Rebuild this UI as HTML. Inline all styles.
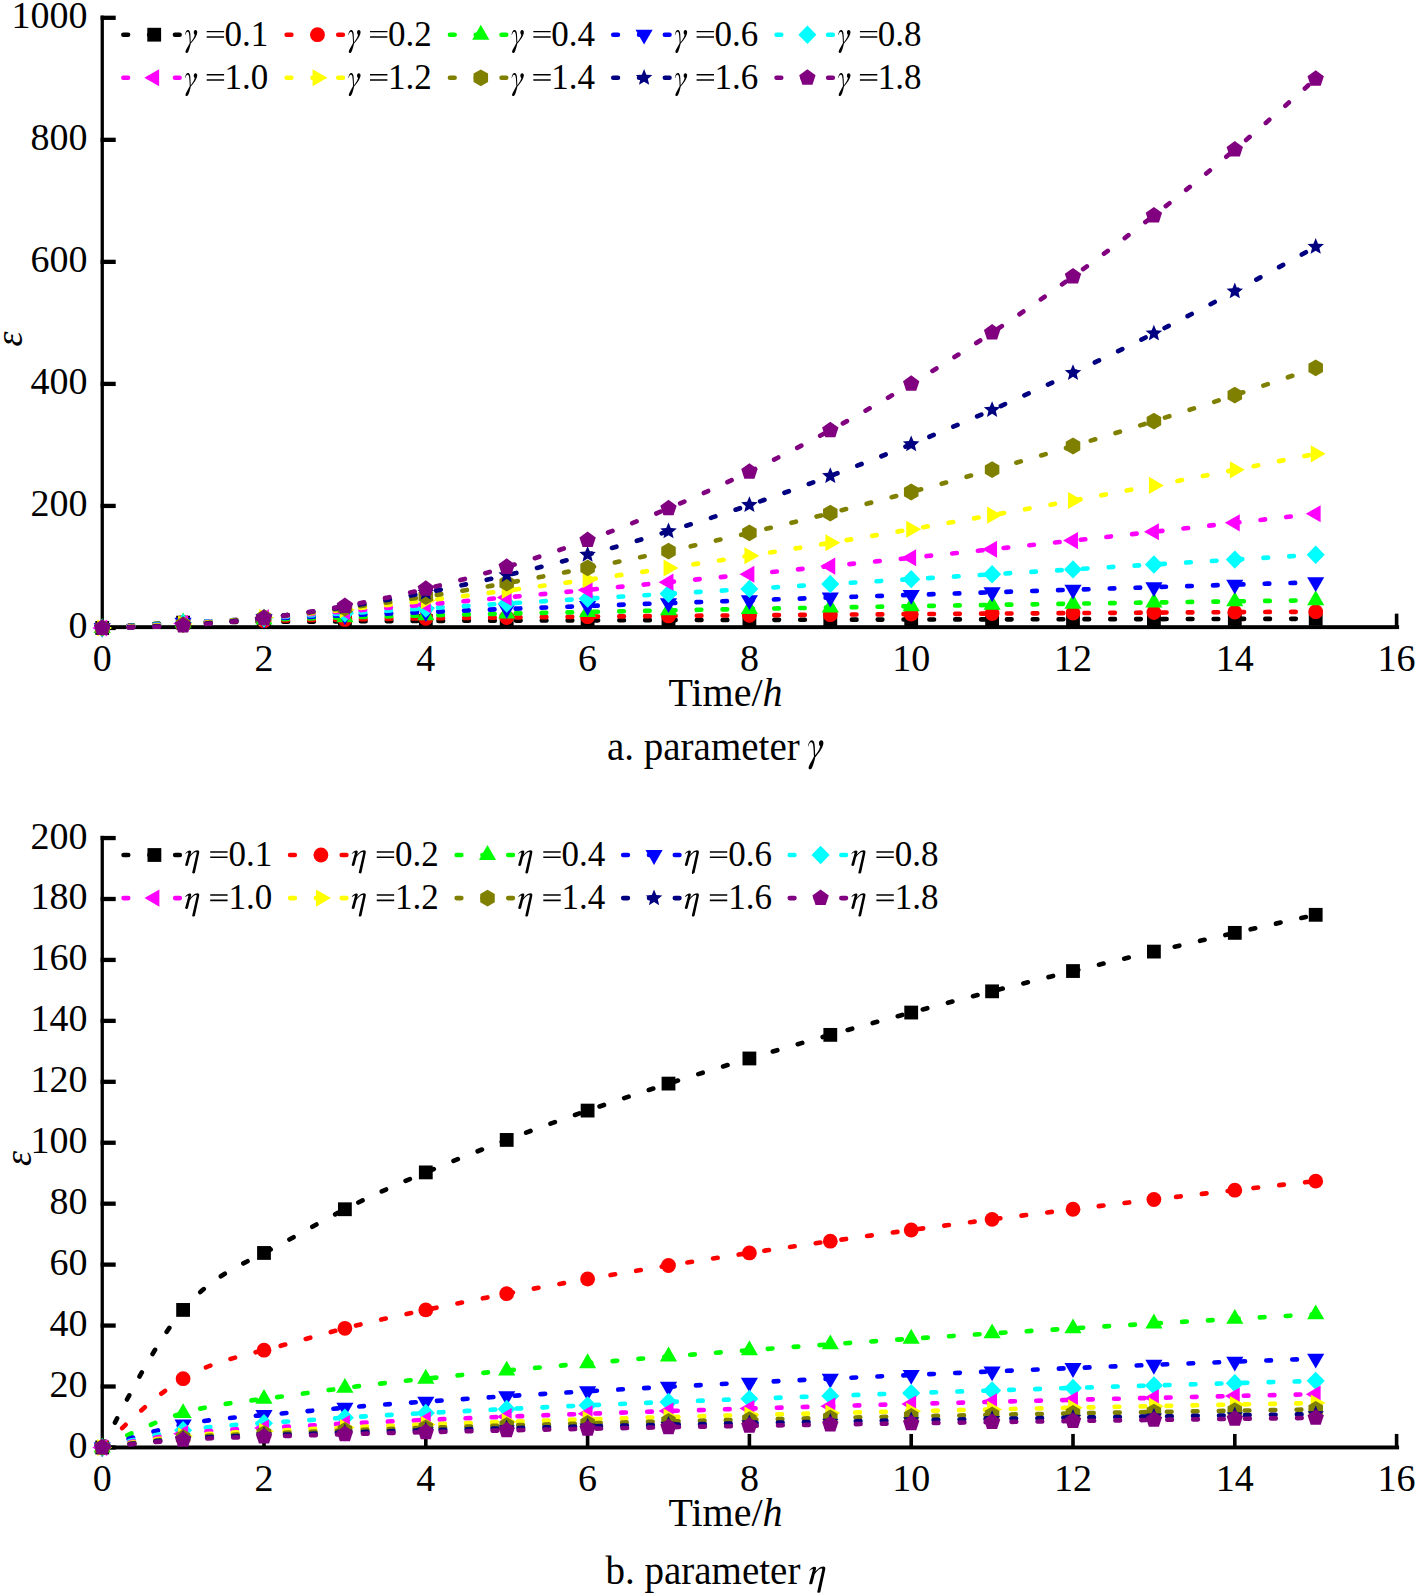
<!DOCTYPE html><html><head><meta charset="utf-8"><style>html,body{margin:0;padding:0;background:#fff;}svg{display:block;}text{font-family:"Liberation Serif",serif;fill:#000;}</style></head><body>
<svg width="1416" height="1596" viewBox="0 0 1416 1596">
<rect width="1416" height="1596" fill="#fff"/>
<defs><path id="gm" d="M0.1,-10.6 C0.6,-13.6 1.7,-15.5 3,-15.5 C4.9,-15.5 5.6,-13 5.6,-9.6 L5.9,-2.4 L4.9,-2.4 C4.7,-6 4.6,-10.5 4,-12.5 C3.5,-14 2.2,-14.5 1.2,-12.6 C0.9,-12 0.6,-11.2 0.4,-10.5 Z M5.2,-2.6 C6.8,-4.6 9,-7 9.9,-10.6 C9.1,-11.2 8.8,-12.4 8.9,-13.4 C9,-14.8 9.9,-15.5 10.7,-15.4 C11.8,-15.3 12.4,-14.4 12.4,-13.2 C12.2,-9.5 9,-5.5 6.2,-2.2 Z M4.9,-2.6 L6,-2.4 C5.4,0.5 4.5,4 3.4,6.3 C2.8,7.6 1.4,7.9 0.8,7.1 C0.4,6.4 0.8,5 1.6,3.6 C2.6,1.5 4,-0.6 4.9,-2.6 Z"/><path id="et" d="M0.2,-12 C1.3,-13.6 3.2,-15.3 4.9,-15.3 C6,-15.3 6.4,-14.6 6.2,-13.6 L3,-0.9 C2.8,-0.2 2.3,0.1 1.5,0.1 C0.6,0.1 0,-0.2 0.2,-1 L3.4,-12.6 C3.5,-13.4 3,-13.5 2.4,-13.2 C1.6,-12.8 0.9,-12.3 0.5,-11.8 Z M4.6,-9.5 C6.5,-12.5 9.5,-15.5 12.5,-15.5 C14,-15.5 14.6,-14.4 14.2,-12.8 L10,6.6 C9.8,7.3 9.2,7.6 8.5,7.6 C7.6,7.6 7.1,7.2 7.3,6.4 L11.6,-12.4 C11.9,-13.6 11.4,-14 10.6,-13.8 C8.5,-13.4 6.4,-10.8 4.8,-8.4 Z"/></defs>
<rect x="100.6" y="15.6" width="3.3" height="613.5" fill="#000"/>
<rect x="100.6" y="625.2" width="1298.5" height="3.9" fill="#000"/>
<rect x="100.6" y="15.65" width="15.1" height="4.3" fill="#000"/>
<rect x="100.6" y="137.68" width="15.1" height="4.3" fill="#000"/>
<rect x="100.6" y="259.71" width="15.1" height="4.3" fill="#000"/>
<rect x="100.6" y="381.74" width="15.1" height="4.3" fill="#000"/>
<rect x="100.6" y="503.77" width="15.1" height="4.3" fill="#000"/>
<rect x="100.6" y="625.8" width="15.1" height="4.3" fill="#000"/>
<text x="87.6" y="28.3" font-size="38" text-anchor="end">1000</text>
<text x="87.6" y="150.33" font-size="38" text-anchor="end">800</text>
<text x="87.6" y="272.36" font-size="38" text-anchor="end">600</text>
<text x="87.6" y="394.39" font-size="38" text-anchor="end">400</text>
<text x="87.6" y="516.42" font-size="38" text-anchor="end">200</text>
<text x="87.6" y="638.45" font-size="38" text-anchor="end">0</text>
<text x="102.2" y="670.7" font-size="38" text-anchor="middle">0</text>
<rect x="262.2" y="613.65" width="3.6" height="13.5" fill="#000"/>
<text x="264" y="670.7" font-size="38" text-anchor="middle">2</text>
<rect x="424" y="613.65" width="3.6" height="13.5" fill="#000"/>
<text x="425.8" y="670.7" font-size="38" text-anchor="middle">4</text>
<rect x="585.8" y="613.65" width="3.6" height="13.5" fill="#000"/>
<text x="587.6" y="670.7" font-size="38" text-anchor="middle">6</text>
<rect x="747.6" y="613.65" width="3.6" height="13.5" fill="#000"/>
<text x="749.4" y="670.7" font-size="38" text-anchor="middle">8</text>
<rect x="909.4" y="613.65" width="3.6" height="13.5" fill="#000"/>
<text x="911.2" y="670.7" font-size="38" text-anchor="middle">10</text>
<rect x="1071.2" y="613.65" width="3.6" height="13.5" fill="#000"/>
<text x="1073" y="670.7" font-size="38" text-anchor="middle">12</text>
<rect x="1233" y="613.65" width="3.6" height="13.5" fill="#000"/>
<text x="1234.8" y="670.7" font-size="38" text-anchor="middle">14</text>
<rect x="1394.8" y="613.65" width="3.6" height="13.5" fill="#000"/>
<text x="1396.6" y="670.7" font-size="38" text-anchor="middle">16</text>
<text x="725.5" y="705.5" font-size="40" text-anchor="middle">Time/<tspan font-style="italic">h</tspan></text>
<text transform="translate(21.5 339) rotate(-90)" font-size="38" font-style="italic" text-anchor="middle">ε</text>
<text x="607" y="759.6" font-size="39">a. parameter</text>
<use href="#gm" transform="translate(807.8 759.7) scale(1.26)"/>
<line x1="123.35" y1="34.7" x2="179.6" y2="34.7" stroke="#000000" stroke-width="4.6" stroke-linecap="round" stroke-dasharray="4.7 21.1"/>
<rect x="147.3" y="27.8" width="13.8" height="13.8" fill="#000000"/>
<use href="#gm" transform="translate(184.86 45.5)"/>
<path d="M206.7 30.95h17.4v1.4h-17.4zM206.7 36.2h17.4v1.6h-17.4z"/>
<text x="224.6" y="45.5" font-size="35">0.1</text>
<line x1="286.65" y1="34.7" x2="342.9" y2="34.7" stroke="#FF0000" stroke-width="4.6" stroke-linecap="round" stroke-dasharray="4.7 21.1"/>
<circle cx="317.5" cy="34.7" r="7.4" fill="#FF0000"/>
<use href="#gm" transform="translate(348.16 45.5)"/>
<path d="M370 30.95h17.4v1.4h-17.4zM370 36.2h17.4v1.6h-17.4z"/>
<text x="387.9" y="45.5" font-size="35">0.2</text>
<line x1="449.95" y1="34.7" x2="506.2" y2="34.7" stroke="#00FF00" stroke-width="4.6" stroke-linecap="round" stroke-dasharray="4.7 21.1"/>
<polygon points="480.8,24.8 489.37,39.65 472.23,39.65" fill="#00FF00"/>
<use href="#gm" transform="translate(511.46 45.5)"/>
<path d="M533.3 30.95h17.4v1.4h-17.4zM533.3 36.2h17.4v1.6h-17.4z"/>
<text x="551.2" y="45.5" font-size="35">0.4</text>
<line x1="613.25" y1="34.7" x2="669.5" y2="34.7" stroke="#0000FF" stroke-width="4.6" stroke-linecap="round" stroke-dasharray="4.7 21.1"/>
<polygon points="644.1,44.6 635.53,29.75 652.67,29.75" fill="#0000FF"/>
<use href="#gm" transform="translate(674.76 45.5)"/>
<path d="M696.6 30.95h17.4v1.4h-17.4zM696.6 36.2h17.4v1.6h-17.4z"/>
<text x="714.5" y="45.5" font-size="35">0.6</text>
<line x1="776.55" y1="34.7" x2="832.8" y2="34.7" stroke="#00FFFF" stroke-width="4.6" stroke-linecap="round" stroke-dasharray="4.7 21.1"/>
<polygon points="807.4,25.5 816.4,34.7 807.4,43.9 798.4,34.7" fill="#00FFFF"/>
<use href="#gm" transform="translate(838.06 45.5)"/>
<path d="M859.9 30.95h17.4v1.4h-17.4zM859.9 36.2h17.4v1.6h-17.4z"/>
<text x="877.8" y="45.5" font-size="35">0.8</text>
<line x1="123.35" y1="77.8" x2="179.6" y2="77.8" stroke="#FF00FF" stroke-width="4.6" stroke-linecap="round" stroke-dasharray="4.7 21.1"/>
<polygon points="144.3,77.8 159.15,69.23 159.15,86.37" fill="#FF00FF"/>
<use href="#gm" transform="translate(184.86 88.55)"/>
<path d="M206.7 74h17.4v1.4h-17.4zM206.7 79.25h17.4v1.6h-17.4z"/>
<text x="224.6" y="88.55" font-size="35">1.0</text>
<line x1="286.65" y1="77.8" x2="342.9" y2="77.8" stroke="#FFFF00" stroke-width="4.6" stroke-linecap="round" stroke-dasharray="4.7 21.1"/>
<polygon points="327.4,77.8 312.55,86.37 312.55,69.23" fill="#FFFF00"/>
<use href="#gm" transform="translate(348.16 88.55)"/>
<path d="M370 74h17.4v1.4h-17.4zM370 79.25h17.4v1.6h-17.4z"/>
<text x="387.9" y="88.55" font-size="35">1.2</text>
<line x1="449.95" y1="77.8" x2="506.2" y2="77.8" stroke="#808000" stroke-width="4.6" stroke-linecap="round" stroke-dasharray="4.7 21.1"/>
<polygon points="480.8,69.4 488.07,73.6 488.07,82 480.8,86.2 473.53,82 473.53,73.6" fill="#808000"/>
<use href="#gm" transform="translate(511.46 88.55)"/>
<path d="M533.3 74h17.4v1.4h-17.4zM533.3 79.25h17.4v1.6h-17.4z"/>
<text x="551.2" y="88.55" font-size="35">1.4</text>
<line x1="613.25" y1="77.8" x2="669.5" y2="77.8" stroke="#000080" stroke-width="4.6" stroke-linecap="round" stroke-dasharray="4.7 21.1"/>
<polygon points="644.1,69.1 646.39,74.64 652.37,75.11 647.81,79.01 649.21,84.84 644.1,81.7 638.99,84.84 640.39,79.01 635.83,75.11 641.81,74.64" fill="#000080"/>
<use href="#gm" transform="translate(674.76 88.55)"/>
<path d="M696.6 74h17.4v1.4h-17.4zM696.6 79.25h17.4v1.6h-17.4z"/>
<text x="714.5" y="88.55" font-size="35">1.6</text>
<line x1="776.55" y1="77.8" x2="832.8" y2="77.8" stroke="#800080" stroke-width="4.6" stroke-linecap="round" stroke-dasharray="4.7 21.1"/>
<polygon points="807.4,69.2 815.58,75.14 812.45,84.76 802.35,84.76 799.22,75.14" fill="#800080"/>
<use href="#gm" transform="translate(838.06 88.55)"/>
<path d="M859.9 74h17.4v1.4h-17.4zM859.9 79.25h17.4v1.6h-17.4z"/>
<text x="877.8" y="88.55" font-size="35">1.8</text>
<path transform="scale(0.99385 1.01077)" d="M102.83 621.26C129.97 619.11 157.1 616.96 184.23 616C211.37 615.03 238.5 615.25 265.63 615.22C292.77 615.18 319.9 614.9 347.04 614.71C374.17 614.52 401.3 614.42 428.44 614.32C455.57 614.22 482.7 614.1 509.84 614C536.97 613.9 564.1 613.82 591.24 613.73C618.37 613.65 645.51 613.57 672.64 613.5C699.77 613.42 726.91 613.35 754.04 613.29C781.17 613.22 808.31 613.16 835.44 613.1C862.57 613.04 889.71 612.98 916.84 612.92C943.98 612.87 971.11 612.81 998.24 612.76C1025.38 612.71 1052.51 612.66 1079.64 612.61C1106.78 612.57 1133.91 612.52 1161.04 612.47C1188.18 612.43 1215.31 612.39 1242.45 612.34C1269.58 612.3 1296.71 612.26 1323.85 612.22" fill="none" stroke="#000000" stroke-width="4.6" stroke-linecap="round" stroke-dasharray="4.7 21.3" stroke-dashoffset="25.51"/>
<rect x="95.3" y="621.05" width="13.8" height="13.8" fill="#000000"/>
<rect x="176.2" y="615.73" width="13.8" height="13.8" fill="#000000"/>
<rect x="257.1" y="614.94" width="13.8" height="13.8" fill="#000000"/>
<rect x="338" y="614.43" width="13.8" height="13.8" fill="#000000"/>
<rect x="418.9" y="614.04" width="13.8" height="13.8" fill="#000000"/>
<rect x="499.8" y="613.72" width="13.8" height="13.8" fill="#000000"/>
<rect x="580.7" y="613.44" width="13.8" height="13.8" fill="#000000"/>
<rect x="661.6" y="613.2" width="13.8" height="13.8" fill="#000000"/>
<rect x="742.5" y="612.99" width="13.8" height="13.8" fill="#000000"/>
<rect x="823.4" y="612.8" width="13.8" height="13.8" fill="#000000"/>
<rect x="904.3" y="612.62" width="13.8" height="13.8" fill="#000000"/>
<rect x="985.2" y="612.46" width="13.8" height="13.8" fill="#000000"/>
<rect x="1066.1" y="612.31" width="13.8" height="13.8" fill="#000000"/>
<rect x="1147" y="612.17" width="13.8" height="13.8" fill="#000000"/>
<rect x="1227.9" y="612.04" width="13.8" height="13.8" fill="#000000"/>
<rect x="1308.8" y="611.91" width="13.8" height="13.8" fill="#000000"/>
<path transform="scale(0.99385 1.01077)" d="M102.83 621.26C129.97 619.12 157.1 616.99 184.23 615.82C211.37 614.64 238.5 614.43 265.63 614.08C292.77 613.72 319.9 613.22 347.04 612.81C374.17 612.41 401.3 612.09 428.44 611.78C455.57 611.48 482.7 611.18 509.84 610.9C536.97 610.62 564.1 610.36 591.24 610.11C618.37 609.87 645.51 609.63 672.64 609.41C699.77 609.18 726.91 608.96 754.04 608.76C781.17 608.55 808.31 608.35 835.44 608.15C862.57 607.96 889.71 607.77 916.84 607.59C943.98 607.41 971.11 607.23 998.24 607.06C1025.38 606.88 1052.51 606.72 1079.64 606.55C1106.78 606.39 1133.91 606.23 1161.04 606.08C1188.18 605.92 1215.31 605.77 1242.45 605.62C1269.58 605.47 1296.71 605.33 1323.85 605.18" fill="none" stroke="#FF0000" stroke-width="4.6" stroke-linecap="round" stroke-dasharray="4.7 21.3" stroke-dashoffset="25.51"/>
<circle cx="102.2" cy="627.95" r="7.4" fill="#FF0000"/>
<circle cx="183.1" cy="622.45" r="7.4" fill="#FF0000"/>
<circle cx="264" cy="620.69" r="7.4" fill="#FF0000"/>
<circle cx="344.9" cy="619.41" r="7.4" fill="#FF0000"/>
<circle cx="425.8" cy="618.37" r="7.4" fill="#FF0000"/>
<circle cx="506.7" cy="617.48" r="7.4" fill="#FF0000"/>
<circle cx="587.6" cy="616.68" r="7.4" fill="#FF0000"/>
<circle cx="668.5" cy="615.97" r="7.4" fill="#FF0000"/>
<circle cx="749.4" cy="615.31" r="7.4" fill="#FF0000"/>
<circle cx="830.3" cy="614.7" r="7.4" fill="#FF0000"/>
<circle cx="911.2" cy="614.13" r="7.4" fill="#FF0000"/>
<circle cx="992.1" cy="613.59" r="7.4" fill="#FF0000"/>
<circle cx="1073" cy="613.09" r="7.4" fill="#FF0000"/>
<circle cx="1153.9" cy="612.6" r="7.4" fill="#FF0000"/>
<circle cx="1234.8" cy="612.14" r="7.4" fill="#FF0000"/>
<circle cx="1315.7" cy="611.7" r="7.4" fill="#FF0000"/>
<path transform="scale(0.99385 1.01077)" d="M102.83 621.26C129.97 619.24 157.1 617.21 184.23 615.85C211.37 614.5 238.5 613.81 265.63 613.07C292.77 612.32 319.9 611.53 347.04 610.81C374.17 610.09 401.3 609.46 428.44 608.84C455.57 608.23 482.7 607.63 509.84 607.06C536.97 606.49 564.1 605.95 591.24 605.42C618.37 604.9 645.51 604.38 672.64 603.89C699.77 603.39 726.91 602.91 754.04 602.44C781.17 601.97 808.31 601.51 835.44 601.06C862.57 600.61 889.71 600.17 916.84 599.74C943.98 599.31 971.11 598.89 998.24 598.48C1025.38 598.06 1052.51 597.66 1079.64 597.26C1106.78 596.86 1133.91 596.46 1161.04 596.07C1188.18 595.69 1215.31 595.3 1242.45 594.93C1269.58 594.55 1296.71 594.19 1323.85 593.82" fill="none" stroke="#00FF00" stroke-width="4.6" stroke-linecap="round" stroke-dasharray="4.7 21.3" stroke-dashoffset="25.51"/>
<polygon points="102.2,618.05 110.77,632.9 93.63,632.9" fill="#00FF00"/>
<polygon points="183.1,612.59 191.67,627.44 174.53,627.44" fill="#00FF00"/>
<polygon points="264,609.77 272.57,624.62 255.43,624.62" fill="#00FF00"/>
<polygon points="344.9,607.49 353.47,622.34 336.33,622.34" fill="#00FF00"/>
<polygon points="425.8,605.5 434.37,620.35 417.23,620.35" fill="#00FF00"/>
<polygon points="506.7,603.7 515.27,618.55 498.13,618.55" fill="#00FF00"/>
<polygon points="587.6,602.04 596.17,616.89 579.03,616.89" fill="#00FF00"/>
<polygon points="668.5,600.49 677.07,615.34 659.93,615.34" fill="#00FF00"/>
<polygon points="749.4,599.03 757.97,613.88 740.83,613.88" fill="#00FF00"/>
<polygon points="830.3,597.63 838.87,612.48 821.73,612.48" fill="#00FF00"/>
<polygon points="911.2,596.3 919.77,611.15 902.63,611.15" fill="#00FF00"/>
<polygon points="992.1,595.02 1000.67,609.87 983.53,609.87" fill="#00FF00"/>
<polygon points="1073,593.79 1081.57,608.64 1064.43,608.64" fill="#00FF00"/>
<polygon points="1153.9,592.59 1162.47,607.44 1145.33,607.44" fill="#00FF00"/>
<polygon points="1234.8,591.44 1243.37,606.29 1226.23,606.29" fill="#00FF00"/>
<polygon points="1315.7,590.31 1324.27,605.16 1307.13,605.16" fill="#00FF00"/>
<path transform="scale(0.99385 1.01077)" d="M102.83 621.26C129.97 619.42 157.1 617.58 184.23 616.07C211.37 614.57 238.5 613.4 265.63 612.23C292.77 611.06 319.9 609.89 347.04 608.77C374.17 607.65 401.3 606.59 428.44 605.54C455.57 604.5 482.7 603.47 509.84 602.47C536.97 601.47 564.1 600.49 591.24 599.52C618.37 598.55 645.51 597.6 672.64 596.67C699.77 595.73 726.91 594.81 754.04 593.89C781.17 592.98 808.31 592.08 835.44 591.19C862.57 590.3 889.71 589.42 916.84 588.54C943.98 587.67 971.11 586.81 998.24 585.95C1025.38 585.1 1052.51 584.25 1079.64 583.41C1106.78 582.57 1133.91 581.73 1161.04 580.9C1188.18 580.08 1215.31 579.25 1242.45 578.44C1269.58 577.62 1296.71 576.82 1323.85 576.01" fill="none" stroke="#0000FF" stroke-width="4.6" stroke-linecap="round" stroke-dasharray="4.7 21.3" stroke-dashoffset="25.51"/>
<polygon points="102.2,637.85 93.63,623 110.77,623" fill="#0000FF"/>
<polygon points="183.1,632.61 174.53,617.76 191.67,617.76" fill="#0000FF"/>
<polygon points="264,628.73 255.43,613.88 272.57,613.88" fill="#0000FF"/>
<polygon points="344.9,625.23 336.33,610.38 353.47,610.38" fill="#0000FF"/>
<polygon points="425.8,621.96 417.23,607.11 434.37,607.11" fill="#0000FF"/>
<polygon points="506.7,618.86 498.13,604.01 515.27,604.01" fill="#0000FF"/>
<polygon points="587.6,615.88 579.03,601.03 596.17,601.03" fill="#0000FF"/>
<polygon points="668.5,612.99 659.93,598.14 677.07,598.14" fill="#0000FF"/>
<polygon points="749.4,610.19 740.83,595.34 757.97,595.34" fill="#0000FF"/>
<polygon points="830.3,607.46 821.73,592.61 838.87,592.61" fill="#0000FF"/>
<polygon points="911.2,604.78 902.63,589.93 919.77,589.93" fill="#0000FF"/>
<polygon points="992.1,602.16 983.53,587.31 1000.67,587.31" fill="#0000FF"/>
<polygon points="1073,599.59 1064.43,584.74 1081.57,584.74" fill="#0000FF"/>
<polygon points="1153.9,597.06 1145.33,582.21 1162.47,582.21" fill="#0000FF"/>
<polygon points="1234.8,594.57 1226.23,579.72 1243.37,579.72" fill="#0000FF"/>
<polygon points="1315.7,592.11 1307.13,577.26 1324.27,577.26" fill="#0000FF"/>
<path transform="scale(0.99385 1.01077)" d="M102.83 621.26C129.97 619.65 157.1 618.04 184.23 616.43C211.37 614.82 238.5 613.21 265.63 611.6C292.77 609.99 319.9 608.38 347.04 606.77C374.17 605.16 401.3 603.55 428.44 601.94C455.57 600.33 482.7 598.72 509.84 597.11C536.97 595.5 564.1 593.89 591.24 592.28C618.37 590.67 645.51 589.06 672.64 587.46C699.77 585.85 726.91 584.24 754.04 582.63C781.17 581.02 808.31 579.41 835.44 577.8C862.57 576.19 889.71 574.58 916.84 572.97C943.98 571.36 971.11 569.75 998.24 568.14C1025.38 566.53 1052.51 564.92 1079.64 563.31C1106.78 561.7 1133.91 560.09 1161.04 558.48C1188.18 556.87 1215.31 555.26 1242.45 553.65C1269.58 552.04 1296.71 550.43 1323.85 548.82" fill="none" stroke="#00FFFF" stroke-width="4.6" stroke-linecap="round" stroke-dasharray="4.7 21.3" stroke-dashoffset="25.51"/>
<polygon points="102.2,618.75 111.2,627.95 102.2,637.15 93.2,627.95" fill="#00FFFF"/>
<polygon points="183.1,613.87 192.1,623.07 183.1,632.27 174.1,623.07" fill="#00FFFF"/>
<polygon points="264,608.99 273,618.19 264,627.39 255,618.19" fill="#00FFFF"/>
<polygon points="344.9,604.11 353.9,613.31 344.9,622.51 335.9,613.31" fill="#00FFFF"/>
<polygon points="425.8,599.23 434.8,608.43 425.8,617.63 416.8,608.43" fill="#00FFFF"/>
<polygon points="506.7,594.34 515.7,603.54 506.7,612.74 497.7,603.54" fill="#00FFFF"/>
<polygon points="587.6,589.46 596.6,598.66 587.6,607.86 578.6,598.66" fill="#00FFFF"/>
<polygon points="668.5,584.58 677.5,593.78 668.5,602.98 659.5,593.78" fill="#00FFFF"/>
<polygon points="749.4,579.7 758.4,588.9 749.4,598.1 740.4,588.9" fill="#00FFFF"/>
<polygon points="830.3,574.82 839.3,584.02 830.3,593.22 821.3,584.02" fill="#00FFFF"/>
<polygon points="911.2,569.94 920.2,579.14 911.2,588.34 902.2,579.14" fill="#00FFFF"/>
<polygon points="992.1,565.06 1001.1,574.26 992.1,583.46 983.1,574.26" fill="#00FFFF"/>
<polygon points="1073,560.18 1082,569.38 1073,578.58 1064,569.38" fill="#00FFFF"/>
<polygon points="1153.9,555.29 1162.9,564.49 1153.9,573.69 1144.9,564.49" fill="#00FFFF"/>
<polygon points="1234.8,550.41 1243.8,559.61 1234.8,568.81 1225.8,559.61" fill="#00FFFF"/>
<polygon points="1315.7,545.53 1324.7,554.73 1315.7,563.93 1306.7,554.73" fill="#00FFFF"/>
<path transform="scale(0.99385 1.01077)" d="M102.83 621.26C129.97 619.9 157.1 618.55 184.23 616.88C211.37 615.21 238.5 613.23 265.63 611.19C292.77 609.15 319.9 607.06 347.04 604.88C374.17 602.7 401.3 600.44 428.44 598.13C455.57 595.81 482.7 593.44 509.84 591.02C536.97 588.6 564.1 586.14 591.24 583.63C618.37 581.12 645.51 578.57 672.64 575.98C699.77 573.39 726.91 570.77 754.04 568.11C781.17 565.46 808.31 562.76 835.44 560.04C862.57 557.32 889.71 554.57 916.84 551.79C943.98 549.02 971.11 546.21 998.24 543.38C1025.38 540.54 1052.51 537.69 1079.64 534.8C1106.78 531.92 1133.91 529.02 1161.04 526.09C1188.18 523.16 1215.31 520.21 1242.45 517.24C1269.58 514.26 1296.71 511.26 1323.85 508.26" fill="none" stroke="#FF00FF" stroke-width="4.6" stroke-linecap="round" stroke-dasharray="4.7 21.3" stroke-dashoffset="25.51"/>
<polygon points="92.3,627.95 107.15,619.38 107.15,636.52" fill="#FF00FF"/>
<polygon points="173.2,623.52 188.05,614.95 188.05,632.09" fill="#FF00FF"/>
<polygon points="254.1,617.77 268.95,609.2 268.95,626.35" fill="#FF00FF"/>
<polygon points="335,611.39 349.85,602.82 349.85,619.97" fill="#FF00FF"/>
<polygon points="415.9,604.57 430.75,595.99 430.75,613.14" fill="#FF00FF"/>
<polygon points="496.8,597.39 511.65,588.81 511.65,605.96" fill="#FF00FF"/>
<polygon points="577.7,589.91 592.55,581.34 592.55,598.49" fill="#FF00FF"/>
<polygon points="658.6,582.18 673.45,573.61 673.45,590.76" fill="#FF00FF"/>
<polygon points="739.5,574.23 754.35,565.66 754.35,582.8" fill="#FF00FF"/>
<polygon points="820.4,566.08 835.25,557.5 835.25,574.65" fill="#FF00FF"/>
<polygon points="901.3,557.74 916.15,549.16 916.15,566.31" fill="#FF00FF"/>
<polygon points="982.2,549.23 997.05,540.65 997.05,557.8" fill="#FF00FF"/>
<polygon points="1063.1,540.56 1077.95,531.99 1077.95,549.14" fill="#FF00FF"/>
<polygon points="1144,531.75 1158.85,523.18 1158.85,540.33" fill="#FF00FF"/>
<polygon points="1224.9,522.81 1239.75,514.23 1239.75,531.38" fill="#FF00FF"/>
<polygon points="1305.8,513.73 1320.65,505.16 1320.65,522.31" fill="#FF00FF"/>
<path transform="scale(0.99385 1.01077)" d="M102.83 621.26C129.97 620.16 157.1 619.05 184.23 617.37C211.37 615.69 238.5 613.43 265.63 611C292.77 608.57 319.9 605.97 347.04 603.16C374.17 600.35 401.3 597.35 428.44 594.18C455.57 591.02 482.7 587.71 509.84 584.26C536.97 580.8 564.1 577.21 591.24 573.49C618.37 569.78 645.51 565.94 672.64 561.99C699.77 558.04 726.91 553.97 754.04 549.81C781.17 545.64 808.31 541.37 835.44 537C862.57 532.63 889.71 528.16 916.84 523.6C943.98 519.05 971.11 514.4 998.24 509.66C1025.38 504.93 1052.51 500.11 1079.64 495.21C1106.78 490.31 1133.91 485.32 1161.04 480.26C1188.18 475.2 1215.31 470.07 1242.45 464.85C1269.58 459.62 1296.71 454.3 1323.85 448.98" fill="none" stroke="#FFFF00" stroke-width="4.6" stroke-linecap="round" stroke-dasharray="4.7 21.3" stroke-dashoffset="25.51"/>
<polygon points="112.1,627.95 97.25,636.52 97.25,619.38" fill="#FFFF00"/>
<polygon points="193,624.02 178.15,632.59 178.15,615.45" fill="#FFFF00"/>
<polygon points="273.9,617.58 259.05,626.15 259.05,609.01" fill="#FFFF00"/>
<polygon points="354.8,609.66 339.95,618.23 339.95,601.08" fill="#FFFF00"/>
<polygon points="435.7,600.58 420.85,609.16 420.85,592.01" fill="#FFFF00"/>
<polygon points="516.6,590.55 501.75,599.12 501.75,581.97" fill="#FFFF00"/>
<polygon points="597.5,579.67 582.65,588.24 582.65,571.1" fill="#FFFF00"/>
<polygon points="678.4,568.04 663.55,576.62 663.55,559.47" fill="#FFFF00"/>
<polygon points="759.3,555.73 744.45,564.3 744.45,547.15" fill="#FFFF00"/>
<polygon points="840.2,542.78 825.35,551.35 825.35,534.21" fill="#FFFF00"/>
<polygon points="921.1,529.24 906.25,537.82 906.25,520.67" fill="#FFFF00"/>
<polygon points="1002,515.15 987.15,523.73 987.15,506.58" fill="#FFFF00"/>
<polygon points="1082.9,500.54 1068.05,509.11 1068.05,491.97" fill="#FFFF00"/>
<polygon points="1163.8,485.43 1148.95,494.01 1148.95,476.86" fill="#FFFF00"/>
<polygon points="1244.7,469.85 1229.85,478.43 1229.85,461.28" fill="#FFFF00"/>
<polygon points="1325.6,453.82 1310.75,462.39 1310.75,445.25" fill="#FFFF00"/>
<path transform="scale(0.99385 1.01077)" d="M102.83 621.26C129.97 620.4 157.1 619.53 184.23 617.88C211.37 616.23 238.5 613.79 265.63 611.02C292.77 608.25 319.9 605.14 347.04 601.67C374.17 598.2 401.3 594.36 428.44 590.22C455.57 586.08 482.7 581.63 509.84 576.9C536.97 572.17 564.1 567.15 591.24 561.87C618.37 556.59 645.51 551.05 672.64 545.26C699.77 539.47 726.91 533.43 754.04 527.16C781.17 520.88 808.31 514.38 835.44 507.64C862.57 500.91 889.71 493.95 916.84 486.78C943.98 479.61 971.11 472.22 998.24 464.63C1025.38 457.03 1052.51 449.23 1079.64 441.23C1106.78 433.23 1133.91 425.02 1161.04 416.63C1188.18 408.25 1215.31 399.68 1242.45 390.87C1269.58 382.07 1296.71 373.03 1323.85 363.98" fill="none" stroke="#808000" stroke-width="4.6" stroke-linecap="round" stroke-dasharray="4.7 21.3" stroke-dashoffset="25.51"/>
<polygon points="102.2,619.55 109.47,623.75 109.47,632.15 102.2,636.35 94.93,632.15 94.93,623.75" fill="#808000"/>
<polygon points="183.1,616.14 190.37,620.34 190.37,628.74 183.1,632.94 175.83,628.74 175.83,620.34" fill="#808000"/>
<polygon points="264,609.2 271.27,613.4 271.27,621.8 264,626 256.73,621.8 256.73,613.4" fill="#808000"/>
<polygon points="344.9,599.75 352.17,603.95 352.17,612.35 344.9,616.55 337.63,612.35 337.63,603.95" fill="#808000"/>
<polygon points="425.8,588.17 433.07,592.37 433.07,600.77 425.8,604.97 418.53,600.77 418.53,592.37" fill="#808000"/>
<polygon points="506.7,574.71 513.97,578.91 513.97,587.31 506.7,591.51 499.43,587.31 499.43,578.91" fill="#808000"/>
<polygon points="587.6,559.52 594.87,563.72 594.87,572.12 587.6,576.32 580.33,572.12 580.33,563.72" fill="#808000"/>
<polygon points="668.5,542.73 675.77,546.93 675.77,555.33 668.5,559.53 661.23,555.33 661.23,546.93" fill="#808000"/>
<polygon points="749.4,524.44 756.67,528.64 756.67,537.04 749.4,541.24 742.13,537.04 742.13,528.64" fill="#808000"/>
<polygon points="830.3,504.71 837.57,508.91 837.57,517.31 830.3,521.51 823.03,517.31 823.03,508.91" fill="#808000"/>
<polygon points="911.2,483.62 918.47,487.82 918.47,496.22 911.2,500.42 903.93,496.22 903.93,487.82" fill="#808000"/>
<polygon points="992.1,461.23 999.37,465.43 999.37,473.83 992.1,478.03 984.83,473.83 984.83,465.43" fill="#808000"/>
<polygon points="1073,437.58 1080.27,441.78 1080.27,450.18 1073,454.38 1065.73,450.18 1065.73,441.78" fill="#808000"/>
<polygon points="1153.9,412.72 1161.17,416.92 1161.17,425.32 1153.9,429.52 1146.63,425.32 1146.63,416.92" fill="#808000"/>
<polygon points="1234.8,386.68 1242.07,390.88 1242.07,399.28 1234.8,403.48 1227.53,399.28 1227.53,390.88" fill="#808000"/>
<polygon points="1315.7,359.5 1322.97,363.7 1322.97,372.1 1315.7,376.3 1308.43,372.1 1308.43,363.7" fill="#808000"/>
<path transform="scale(0.99385 1.01077)" d="M102.83 621.26C129.97 620.61 157.1 619.96 184.23 618.38C211.37 616.8 238.5 614.28 265.63 611.23C292.77 608.18 319.9 604.6 347.04 600.45C374.17 596.3 401.3 591.57 428.44 586.33C455.57 581.09 482.7 575.33 509.84 569.07C536.97 562.8 564.1 556.04 591.24 548.79C618.37 541.54 645.51 533.82 672.64 525.62C699.77 517.42 726.91 508.75 754.04 499.63C781.17 490.51 808.31 480.93 835.44 470.91C862.57 460.88 889.71 450.42 916.84 439.51C943.98 428.6 971.11 417.26 998.24 405.49C1025.38 393.73 1052.51 381.53 1079.64 368.91C1106.78 356.29 1133.91 343.24 1161.04 329.8C1188.18 316.37 1215.31 302.55 1242.45 288.21C1269.58 273.88 1296.71 259.03 1323.85 244.18" fill="none" stroke="#000080" stroke-width="4.6" stroke-linecap="round" stroke-dasharray="4.7 21.3" stroke-dashoffset="25.51"/>
<polygon points="102.2,619.25 104.49,624.79 110.47,625.26 105.91,629.16 107.31,634.99 102.2,631.85 97.09,634.99 98.49,629.16 93.93,625.26 99.91,624.79" fill="#000080"/>
<polygon points="183.1,616.34 185.39,621.88 191.37,622.35 186.81,626.24 188.21,632.08 183.1,628.94 177.99,632.08 179.39,626.24 174.83,622.35 180.81,621.88" fill="#000080"/>
<polygon points="264,609.11 266.29,614.66 272.27,615.12 267.71,619.02 269.11,624.85 264,621.71 258.89,624.85 260.29,619.02 255.73,615.12 261.71,614.66" fill="#000080"/>
<polygon points="344.9,598.21 347.19,603.76 353.17,604.23 348.61,608.12 350.01,613.95 344.9,610.81 339.79,613.95 341.19,608.12 336.63,604.23 342.61,603.76" fill="#000080"/>
<polygon points="425.8,583.95 428.09,589.49 434.07,589.96 429.51,593.85 430.91,599.68 425.8,596.55 420.69,599.68 422.09,593.85 417.53,589.96 423.51,589.49" fill="#000080"/>
<polygon points="506.7,566.49 508.99,572.04 514.97,572.51 510.41,576.4 511.81,582.23 506.7,579.09 501.59,582.23 502.99,576.4 498.43,572.51 504.41,572.04" fill="#000080"/>
<polygon points="587.6,546 589.89,551.55 595.87,552.01 591.31,555.91 592.71,561.74 587.6,558.6 582.49,561.74 583.89,555.91 579.33,552.01 585.31,551.55" fill="#000080"/>
<polygon points="668.5,522.58 670.79,528.12 676.77,528.59 672.21,532.48 673.61,538.32 668.5,535.18 663.39,538.32 664.79,532.48 660.23,528.59 666.21,528.12" fill="#000080"/>
<polygon points="749.4,496.31 751.69,501.86 757.67,502.32 753.11,506.22 754.51,512.05 749.4,508.91 744.29,512.05 745.69,506.22 741.13,502.32 747.11,501.86" fill="#000080"/>
<polygon points="830.3,467.28 832.59,472.82 838.57,473.29 834.01,477.18 835.41,483.02 830.3,479.88 825.19,483.02 826.59,477.18 822.03,473.29 828.01,472.82" fill="#000080"/>
<polygon points="911.2,435.54 913.49,441.09 919.47,441.55 914.91,445.45 916.31,451.28 911.2,448.14 906.09,451.28 907.49,445.45 902.93,441.55 908.91,441.09" fill="#000080"/>
<polygon points="992.1,401.16 994.39,406.71 1000.37,407.17 995.81,411.07 997.21,416.9 992.1,413.76 986.99,416.9 988.39,411.07 983.83,407.17 989.81,406.71" fill="#000080"/>
<polygon points="1073,364.18 1075.29,369.73 1081.27,370.2 1076.71,374.09 1078.11,379.92 1073,376.78 1067.89,379.92 1069.29,374.09 1064.73,370.2 1070.71,369.73" fill="#000080"/>
<polygon points="1153.9,324.66 1156.19,330.2 1162.17,330.67 1157.61,334.56 1159.01,340.39 1153.9,337.26 1148.79,340.39 1150.19,334.56 1145.63,330.67 1151.61,330.2" fill="#000080"/>
<polygon points="1234.8,282.62 1237.09,288.16 1243.07,288.63 1238.51,292.52 1239.91,298.36 1234.8,295.22 1229.69,298.36 1231.09,292.52 1226.53,288.63 1232.51,288.16" fill="#000080"/>
<polygon points="1315.7,238.11 1317.99,243.65 1323.97,244.12 1319.41,248.01 1320.81,253.84 1315.7,250.71 1310.59,253.84 1311.99,248.01 1307.43,244.12 1313.41,243.65" fill="#000080"/>
<path transform="scale(0.99385 1.01077)" d="M102.83 621.26C129.97 620.79 157.1 620.33 184.23 618.84C211.37 617.36 238.5 614.85 265.63 611.6C292.77 608.35 319.9 604.35 347.04 599.53C374.17 594.71 401.3 589.07 428.44 582.63C455.57 576.18 482.7 568.94 509.84 560.89C536.97 552.85 564.1 543.99 591.24 534.33C618.37 524.68 645.51 514.21 672.64 502.94C699.77 491.68 726.91 479.6 754.04 466.73C781.17 453.85 808.31 440.16 835.44 425.68C862.57 411.19 889.71 395.9 916.84 379.8C943.98 363.7 971.11 346.8 998.24 329.09C1025.38 311.39 1052.51 292.88 1079.64 273.56C1106.78 254.23 1133.91 234.09 1161.04 213.19C1188.18 192.3 1215.31 170.66 1242.45 148C1269.58 125.34 1296.71 101.66 1323.85 77.98" fill="none" stroke="#800080" stroke-width="4.6" stroke-linecap="round" stroke-dasharray="4.7 21.3" stroke-dashoffset="25.51"/>
<polygon points="102.2,619.35 110.38,625.29 107.25,634.91 97.15,634.91 94.02,625.29" fill="#800080"/>
<polygon points="183.1,616.91 191.28,622.85 188.15,632.47 178.05,632.47 174.92,622.85" fill="#800080"/>
<polygon points="264,609.59 272.18,615.53 269.05,625.15 258.95,625.15 255.82,615.53" fill="#800080"/>
<polygon points="344.9,597.38 353.08,603.33 349.95,612.94 339.85,612.94 336.72,603.33" fill="#800080"/>
<polygon points="425.8,580.3 433.98,586.24 430.85,595.86 420.75,595.86 417.62,586.24" fill="#800080"/>
<polygon points="506.7,558.34 514.88,564.28 511.75,573.89 501.65,573.89 498.52,564.28" fill="#800080"/>
<polygon points="587.6,531.49 595.78,537.43 592.65,547.05 582.55,547.05 579.42,537.43" fill="#800080"/>
<polygon points="668.5,499.76 676.68,505.7 673.55,515.32 663.45,515.32 660.32,505.7" fill="#800080"/>
<polygon points="749.4,463.15 757.58,469.09 754.45,478.71 744.35,478.71 741.22,469.09" fill="#800080"/>
<polygon points="830.3,421.66 838.48,427.6 835.35,437.22 825.25,437.22 822.12,427.6" fill="#800080"/>
<polygon points="911.2,375.29 919.38,381.23 916.25,390.85 906.15,390.85 903.02,381.23" fill="#800080"/>
<polygon points="992.1,324.04 1000.28,329.98 997.15,339.59 987.05,339.59 983.92,329.98" fill="#800080"/>
<polygon points="1073,267.9 1081.18,273.85 1078.05,283.46 1067.95,283.46 1064.82,273.85" fill="#800080"/>
<polygon points="1153.9,206.89 1162.08,212.83 1158.95,222.45 1148.85,222.45 1145.72,212.83" fill="#800080"/>
<polygon points="1234.8,140.99 1242.98,146.93 1239.85,156.55 1229.75,156.55 1226.62,146.93" fill="#800080"/>
<polygon points="1315.7,70.22 1323.88,76.16 1320.75,85.77 1310.65,85.77 1307.52,76.16" fill="#800080"/>
<rect x="100.6" y="835.85" width="3.3" height="613.55" fill="#000"/>
<rect x="100.6" y="1445.5" width="1298.5" height="3.9" fill="#000"/>
<rect x="100.6" y="835.9" width="15.1" height="4.3" fill="#000"/>
<rect x="100.6" y="896.84" width="15.1" height="4.3" fill="#000"/>
<rect x="100.6" y="957.78" width="15.1" height="4.3" fill="#000"/>
<rect x="100.6" y="1018.72" width="15.1" height="4.3" fill="#000"/>
<rect x="100.6" y="1079.66" width="15.1" height="4.3" fill="#000"/>
<rect x="100.6" y="1140.6" width="15.1" height="4.3" fill="#000"/>
<rect x="100.6" y="1201.54" width="15.1" height="4.3" fill="#000"/>
<rect x="100.6" y="1262.48" width="15.1" height="4.3" fill="#000"/>
<rect x="100.6" y="1323.42" width="15.1" height="4.3" fill="#000"/>
<rect x="100.6" y="1384.36" width="15.1" height="4.3" fill="#000"/>
<rect x="100.6" y="1445.3" width="15.1" height="4.3" fill="#000"/>
<text x="87.6" y="848.55" font-size="38" text-anchor="end">200</text>
<text x="87.6" y="909.49" font-size="38" text-anchor="end">180</text>
<text x="87.6" y="970.43" font-size="38" text-anchor="end">160</text>
<text x="87.6" y="1031.37" font-size="38" text-anchor="end">140</text>
<text x="87.6" y="1092.31" font-size="38" text-anchor="end">120</text>
<text x="87.6" y="1153.25" font-size="38" text-anchor="end">100</text>
<text x="87.6" y="1214.19" font-size="38" text-anchor="end">80</text>
<text x="87.6" y="1275.13" font-size="38" text-anchor="end">60</text>
<text x="87.6" y="1336.07" font-size="38" text-anchor="end">40</text>
<text x="87.6" y="1397.01" font-size="38" text-anchor="end">20</text>
<text x="87.6" y="1457.95" font-size="38" text-anchor="end">0</text>
<text x="102.2" y="1491" font-size="38" text-anchor="middle">0</text>
<rect x="262.2" y="1433.95" width="3.6" height="13.5" fill="#000"/>
<text x="264" y="1491" font-size="38" text-anchor="middle">2</text>
<rect x="424" y="1433.95" width="3.6" height="13.5" fill="#000"/>
<text x="425.8" y="1491" font-size="38" text-anchor="middle">4</text>
<rect x="585.8" y="1433.95" width="3.6" height="13.5" fill="#000"/>
<text x="587.6" y="1491" font-size="38" text-anchor="middle">6</text>
<rect x="747.6" y="1433.95" width="3.6" height="13.5" fill="#000"/>
<text x="749.4" y="1491" font-size="38" text-anchor="middle">8</text>
<rect x="909.4" y="1433.95" width="3.6" height="13.5" fill="#000"/>
<text x="911.2" y="1491" font-size="38" text-anchor="middle">10</text>
<rect x="1071.2" y="1433.95" width="3.6" height="13.5" fill="#000"/>
<text x="1073" y="1491" font-size="38" text-anchor="middle">12</text>
<rect x="1233" y="1433.95" width="3.6" height="13.5" fill="#000"/>
<text x="1234.8" y="1491" font-size="38" text-anchor="middle">14</text>
<rect x="1394.8" y="1433.95" width="3.6" height="13.5" fill="#000"/>
<text x="1396.6" y="1491" font-size="38" text-anchor="middle">16</text>
<text x="725.5" y="1525.8" font-size="40" text-anchor="middle">Time/<tspan font-style="italic">h</tspan></text>
<text transform="translate(30.7 1158.6) rotate(-90)" font-size="38" font-style="italic" text-anchor="middle">ε</text>
<text x="605.5" y="1584.2" font-size="39">b. parameter</text>
<use href="#et" transform="translate(809.0 1584.2) scale(1.14)"/>
<line x1="123.55" y1="855" x2="179.8" y2="855" stroke="#000000" stroke-width="4.6" stroke-linecap="round" stroke-dasharray="4.7 21.1"/>
<rect x="147.5" y="848.1" width="13.8" height="13.8" fill="#000000"/>
<use href="#et" transform="translate(184.96 865.8)"/>
<path d="M210.2 851.25h17.4v1.4h-17.4zM210.2 856.5h17.4v1.6h-17.4z"/>
<text x="228.5" y="865.8" font-size="35">0.1</text>
<line x1="290.1" y1="855" x2="346.35" y2="855" stroke="#FF0000" stroke-width="4.6" stroke-linecap="round" stroke-dasharray="4.7 21.1"/>
<circle cx="320.95" cy="855" r="7.4" fill="#FF0000"/>
<use href="#et" transform="translate(351.51 865.8)"/>
<path d="M376.75 851.25h17.4v1.4h-17.4zM376.75 856.5h17.4v1.6h-17.4z"/>
<text x="395.05" y="865.8" font-size="35">0.2</text>
<line x1="456.65" y1="855" x2="512.9" y2="855" stroke="#00FF00" stroke-width="4.6" stroke-linecap="round" stroke-dasharray="4.7 21.1"/>
<polygon points="487.5,845.1 496.07,859.95 478.93,859.95" fill="#00FF00"/>
<use href="#et" transform="translate(518.06 865.8)"/>
<path d="M543.3 851.25h17.4v1.4h-17.4zM543.3 856.5h17.4v1.6h-17.4z"/>
<text x="561.6" y="865.8" font-size="35">0.4</text>
<line x1="623.2" y1="855" x2="679.45" y2="855" stroke="#0000FF" stroke-width="4.6" stroke-linecap="round" stroke-dasharray="4.7 21.1"/>
<polygon points="654.05,864.9 645.48,850.05 662.62,850.05" fill="#0000FF"/>
<use href="#et" transform="translate(684.61 865.8)"/>
<path d="M709.85 851.25h17.4v1.4h-17.4zM709.85 856.5h17.4v1.6h-17.4z"/>
<text x="728.15" y="865.8" font-size="35">0.6</text>
<line x1="789.75" y1="855" x2="846" y2="855" stroke="#00FFFF" stroke-width="4.6" stroke-linecap="round" stroke-dasharray="4.7 21.1"/>
<polygon points="820.6,845.8 829.6,855 820.6,864.2 811.6,855" fill="#00FFFF"/>
<use href="#et" transform="translate(851.16 865.8)"/>
<path d="M876.4 851.25h17.4v1.4h-17.4zM876.4 856.5h17.4v1.6h-17.4z"/>
<text x="894.7" y="865.8" font-size="35">0.8</text>
<line x1="123.55" y1="898.1" x2="179.8" y2="898.1" stroke="#FF00FF" stroke-width="4.6" stroke-linecap="round" stroke-dasharray="4.7 21.1"/>
<polygon points="144.5,898.1 159.35,889.53 159.35,906.67" fill="#FF00FF"/>
<use href="#et" transform="translate(184.96 908.85)"/>
<path d="M210.2 894.3h17.4v1.4h-17.4zM210.2 899.55h17.4v1.6h-17.4z"/>
<text x="228.5" y="908.85" font-size="35">1.0</text>
<line x1="290.1" y1="898.1" x2="346.35" y2="898.1" stroke="#FFFF00" stroke-width="4.6" stroke-linecap="round" stroke-dasharray="4.7 21.1"/>
<polygon points="330.85,898.1 316,906.67 316,889.53" fill="#FFFF00"/>
<use href="#et" transform="translate(351.51 908.85)"/>
<path d="M376.75 894.3h17.4v1.4h-17.4zM376.75 899.55h17.4v1.6h-17.4z"/>
<text x="395.05" y="908.85" font-size="35">1.2</text>
<line x1="456.65" y1="898.1" x2="512.9" y2="898.1" stroke="#808000" stroke-width="4.6" stroke-linecap="round" stroke-dasharray="4.7 21.1"/>
<polygon points="487.5,889.7 494.77,893.9 494.77,902.3 487.5,906.5 480.23,902.3 480.23,893.9" fill="#808000"/>
<use href="#et" transform="translate(518.06 908.85)"/>
<path d="M543.3 894.3h17.4v1.4h-17.4zM543.3 899.55h17.4v1.6h-17.4z"/>
<text x="561.6" y="908.85" font-size="35">1.4</text>
<line x1="623.2" y1="898.1" x2="679.45" y2="898.1" stroke="#000080" stroke-width="4.6" stroke-linecap="round" stroke-dasharray="4.7 21.1"/>
<polygon points="654.05,889.4 656.34,894.94 662.32,895.41 657.76,899.31 659.16,905.14 654.05,902 648.94,905.14 650.34,899.31 645.78,895.41 651.76,894.94" fill="#000080"/>
<use href="#et" transform="translate(684.61 908.85)"/>
<path d="M709.85 894.3h17.4v1.4h-17.4zM709.85 899.55h17.4v1.6h-17.4z"/>
<text x="728.15" y="908.85" font-size="35">1.6</text>
<line x1="789.75" y1="898.1" x2="846" y2="898.1" stroke="#800080" stroke-width="4.6" stroke-linecap="round" stroke-dasharray="4.7 21.1"/>
<polygon points="820.6,889.5 828.78,895.44 825.65,905.06 815.55,905.06 812.42,895.44" fill="#800080"/>
<use href="#et" transform="translate(851.16 908.85)"/>
<path d="M876.4 894.3h17.4v1.4h-17.4zM876.4 899.55h17.4v1.6h-17.4z"/>
<text x="894.7" y="908.85" font-size="35">1.8</text>
<path transform="scale(0.99808 1.00692)" d="M102.4 1437.5C129.42 1385.1 156.43 1332.71 183.45 1300.92C210.47 1269.13 237.49 1257.94 264.51 1244.34C291.53 1230.74 318.55 1214.73 345.56 1200.93C372.58 1187.13 399.6 1175.54 426.62 1164.34C453.64 1153.13 480.66 1142.32 507.68 1132.09C534.69 1121.87 561.71 1112.22 588.73 1102.94C615.75 1093.66 642.77 1084.75 669.79 1076.14C696.81 1067.53 723.83 1059.24 750.84 1051.19C777.86 1043.14 804.88 1035.34 831.9 1027.75C858.92 1020.17 885.94 1012.79 912.96 1005.59C939.97 998.39 966.99 991.37 994.01 984.51C1021.03 977.65 1048.05 970.94 1075.07 964.37C1102.09 957.8 1129.1 951.36 1156.12 945.05C1183.14 938.73 1210.16 932.53 1237.18 926.46C1264.2 920.39 1291.22 914.46 1318.24 908.52" fill="none" stroke="#000000" stroke-width="4.6" stroke-linecap="round" stroke-dasharray="4.7 21.3" stroke-dashoffset="24.31"/>
<rect x="95.3" y="1440.55" width="13.8" height="13.8" fill="#000000"/>
<rect x="176.2" y="1303.02" width="13.8" height="13.8" fill="#000000"/>
<rect x="257.1" y="1246.06" width="13.8" height="13.8" fill="#000000"/>
<rect x="338" y="1202.35" width="13.8" height="13.8" fill="#000000"/>
<rect x="418.9" y="1165.5" width="13.8" height="13.8" fill="#000000"/>
<rect x="499.8" y="1133.03" width="13.8" height="13.8" fill="#000000"/>
<rect x="580.7" y="1103.68" width="13.8" height="13.8" fill="#000000"/>
<rect x="661.6" y="1076.69" width="13.8" height="13.8" fill="#000000"/>
<rect x="742.5" y="1051.57" width="13.8" height="13.8" fill="#000000"/>
<rect x="823.4" y="1027.97" width="13.8" height="13.8" fill="#000000"/>
<rect x="904.3" y="1005.65" width="13.8" height="13.8" fill="#000000"/>
<rect x="985.2" y="984.43" width="13.8" height="13.8" fill="#000000"/>
<rect x="1066.1" y="964.14" width="13.8" height="13.8" fill="#000000"/>
<rect x="1147" y="944.69" width="13.8" height="13.8" fill="#000000"/>
<rect x="1227.9" y="925.97" width="13.8" height="13.8" fill="#000000"/>
<rect x="1308.8" y="907.91" width="13.8" height="13.8" fill="#000000"/>
<path transform="scale(0.99808 1.00692)" d="M102.4 1437.5C129.42 1411.3 156.43 1385.1 183.45 1369.21C210.47 1353.31 237.49 1347.72 264.51 1340.92C291.53 1334.12 318.55 1326.12 345.56 1319.22C372.58 1312.31 399.6 1306.52 426.62 1300.92C453.64 1295.32 480.66 1289.91 507.68 1284.8C534.69 1279.68 561.71 1274.86 588.73 1270.22C615.75 1265.58 642.77 1261.12 669.79 1256.82C696.81 1252.51 723.83 1248.37 750.84 1244.34C777.86 1240.32 804.88 1236.42 831.9 1232.63C858.92 1228.83 885.94 1225.14 912.96 1221.54C939.97 1217.94 966.99 1214.44 994.01 1211C1021.03 1207.57 1048.05 1204.22 1075.07 1200.93C1102.09 1197.65 1129.1 1194.43 1156.12 1191.27C1183.14 1188.11 1210.16 1185.01 1237.18 1181.98C1264.2 1178.94 1291.22 1175.98 1318.24 1173.01" fill="none" stroke="#FF0000" stroke-width="4.6" stroke-linecap="round" stroke-dasharray="4.7 21.3" stroke-dashoffset="24.31"/>
<circle cx="102.2" cy="1447.45" r="7.4" fill="#FF0000"/>
<circle cx="183.1" cy="1378.69" r="7.4" fill="#FF0000"/>
<circle cx="264" cy="1350.2" r="7.4" fill="#FF0000"/>
<circle cx="344.9" cy="1328.35" r="7.4" fill="#FF0000"/>
<circle cx="425.8" cy="1309.92" r="7.4" fill="#FF0000"/>
<circle cx="506.7" cy="1293.69" r="7.4" fill="#FF0000"/>
<circle cx="587.6" cy="1279.01" r="7.4" fill="#FF0000"/>
<circle cx="668.5" cy="1265.52" r="7.4" fill="#FF0000"/>
<circle cx="749.4" cy="1252.96" r="7.4" fill="#FF0000"/>
<circle cx="830.3" cy="1241.16" r="7.4" fill="#FF0000"/>
<circle cx="911.2" cy="1230" r="7.4" fill="#FF0000"/>
<circle cx="992.1" cy="1219.39" r="7.4" fill="#FF0000"/>
<circle cx="1073" cy="1209.25" r="7.4" fill="#FF0000"/>
<circle cx="1153.9" cy="1199.52" r="7.4" fill="#FF0000"/>
<circle cx="1234.8" cy="1190.16" r="7.4" fill="#FF0000"/>
<circle cx="1315.7" cy="1181.13" r="7.4" fill="#FF0000"/>
<path transform="scale(0.99808 1.00692)" d="M102.4 1437.5C129.42 1424.4 156.43 1411.3 183.45 1403.35C210.47 1395.41 237.49 1392.61 264.51 1389.21C291.53 1385.81 318.55 1381.81 345.56 1378.36C372.58 1374.91 399.6 1372.01 426.62 1369.21C453.64 1366.41 480.66 1363.7 507.68 1361.15C534.69 1358.59 561.71 1356.18 588.73 1353.86C615.75 1351.54 642.77 1349.31 669.79 1347.16C696.81 1345.01 723.83 1342.93 750.84 1340.92C777.86 1338.91 804.88 1336.96 831.9 1335.06C858.92 1333.17 885.94 1331.32 912.96 1329.52C939.97 1327.72 966.99 1325.97 994.01 1324.25C1021.03 1322.53 1048.05 1320.86 1075.07 1319.22C1102.09 1317.57 1129.1 1315.96 1156.12 1314.39C1183.14 1312.81 1210.16 1311.26 1237.18 1309.74C1264.2 1308.22 1291.22 1306.74 1318.24 1305.25" fill="none" stroke="#00FF00" stroke-width="4.6" stroke-linecap="round" stroke-dasharray="4.7 21.3" stroke-dashoffset="24.31"/>
<polygon points="102.2,1437.55 110.77,1452.4 93.63,1452.4" fill="#00FF00"/>
<polygon points="183.1,1403.17 191.67,1418.02 174.53,1418.02" fill="#00FF00"/>
<polygon points="264,1388.93 272.57,1403.78 255.43,1403.78" fill="#00FF00"/>
<polygon points="344.9,1378 353.47,1392.85 336.33,1392.85" fill="#00FF00"/>
<polygon points="425.8,1368.79 434.37,1383.64 417.23,1383.64" fill="#00FF00"/>
<polygon points="506.7,1360.67 515.27,1375.52 498.13,1375.52" fill="#00FF00"/>
<polygon points="587.6,1353.33 596.17,1368.18 579.03,1368.18" fill="#00FF00"/>
<polygon points="668.5,1346.58 677.07,1361.43 659.93,1361.43" fill="#00FF00"/>
<polygon points="749.4,1340.3 757.97,1355.15 740.83,1355.15" fill="#00FF00"/>
<polygon points="830.3,1334.4 838.87,1349.25 821.73,1349.25" fill="#00FF00"/>
<polygon points="911.2,1328.83 919.77,1343.68 902.63,1343.68" fill="#00FF00"/>
<polygon points="992.1,1323.52 1000.67,1338.37 983.53,1338.37" fill="#00FF00"/>
<polygon points="1073,1318.45 1081.57,1333.3 1064.43,1333.3" fill="#00FF00"/>
<polygon points="1153.9,1313.58 1162.47,1328.43 1145.33,1328.43" fill="#00FF00"/>
<polygon points="1234.8,1308.91 1243.37,1323.76 1226.23,1323.76" fill="#00FF00"/>
<polygon points="1315.7,1304.39 1324.27,1319.24 1307.13,1319.24" fill="#00FF00"/>
<path transform="scale(0.99808 1.00692)" d="M102.4 1437.5C129.42 1428.77 156.43 1420.03 183.45 1414.73C210.47 1409.44 237.49 1407.57 264.51 1405.31C291.53 1403.04 318.55 1400.37 345.56 1398.07C372.58 1395.77 399.6 1393.84 426.62 1391.97C453.64 1390.1 480.66 1388.3 507.68 1386.6C534.69 1384.89 561.71 1383.29 588.73 1381.74C615.75 1380.19 642.77 1378.71 669.79 1377.27C696.81 1375.84 723.83 1374.45 750.84 1373.11C777.86 1371.77 804.88 1370.47 831.9 1369.21C858.92 1367.94 885.94 1366.71 912.96 1365.51C939.97 1364.31 966.99 1363.14 994.01 1362C1021.03 1360.86 1048.05 1359.74 1075.07 1358.64C1102.09 1357.55 1129.1 1356.48 1156.12 1355.42C1183.14 1354.37 1210.16 1353.34 1237.18 1352.32C1264.2 1351.31 1291.22 1350.32 1318.24 1349.34" fill="none" stroke="#0000FF" stroke-width="4.6" stroke-linecap="round" stroke-dasharray="4.7 21.3" stroke-dashoffset="24.31"/>
<polygon points="102.2,1457.35 93.63,1442.5 110.77,1442.5" fill="#0000FF"/>
<polygon points="183.1,1434.43 174.53,1419.58 191.67,1419.58" fill="#0000FF"/>
<polygon points="264,1424.93 255.43,1410.08 272.57,1410.08" fill="#0000FF"/>
<polygon points="344.9,1417.65 336.33,1402.8 353.47,1402.8" fill="#0000FF"/>
<polygon points="425.8,1411.51 417.23,1396.66 434.37,1396.66" fill="#0000FF"/>
<polygon points="506.7,1406.1 498.13,1391.25 515.27,1391.25" fill="#0000FF"/>
<polygon points="587.6,1401.2 579.03,1386.35 596.17,1386.35" fill="#0000FF"/>
<polygon points="668.5,1396.71 659.93,1381.86 677.07,1381.86" fill="#0000FF"/>
<polygon points="749.4,1392.52 740.83,1377.67 757.97,1377.67" fill="#0000FF"/>
<polygon points="830.3,1388.59 821.73,1373.74 838.87,1373.74" fill="#0000FF"/>
<polygon points="911.2,1384.87 902.63,1370.02 919.77,1370.02" fill="#0000FF"/>
<polygon points="992.1,1381.33 983.53,1366.48 1000.67,1366.48" fill="#0000FF"/>
<polygon points="1073,1377.95 1064.43,1363.1 1081.57,1363.1" fill="#0000FF"/>
<polygon points="1153.9,1374.71 1145.33,1359.86 1162.47,1359.86" fill="#0000FF"/>
<polygon points="1234.8,1371.59 1226.23,1356.74 1243.37,1356.74" fill="#0000FF"/>
<polygon points="1315.7,1368.58 1307.13,1353.73 1324.27,1353.73" fill="#0000FF"/>
<path transform="scale(0.99808 1.00692)" d="M102.4 1437.5C129.42 1430.95 156.43 1424.4 183.45 1420.43C210.47 1416.45 237.49 1415.05 264.51 1413.35C291.53 1411.65 318.55 1409.65 345.56 1407.93C372.58 1406.2 399.6 1404.75 426.62 1403.35C453.64 1401.95 480.66 1400.6 507.68 1399.32C534.69 1398.04 561.71 1396.84 588.73 1395.68C615.75 1394.52 642.77 1393.4 669.79 1392.33C696.81 1391.25 723.83 1390.22 750.84 1389.21C777.86 1388.2 804.88 1387.23 831.9 1386.28C858.92 1385.33 885.94 1384.41 912.96 1383.51C939.97 1382.61 966.99 1381.73 994.01 1380.87C1021.03 1380.02 1048.05 1379.18 1075.07 1378.36C1102.09 1377.54 1129.1 1376.73 1156.12 1375.94C1183.14 1375.15 1210.16 1374.38 1237.18 1373.62C1264.2 1372.86 1291.22 1372.12 1318.24 1371.38" fill="none" stroke="#00FFFF" stroke-width="4.6" stroke-linecap="round" stroke-dasharray="4.7 21.3" stroke-dashoffset="24.31"/>
<polygon points="102.2,1438.25 111.2,1447.45 102.2,1456.65 93.2,1447.45" fill="#00FFFF"/>
<polygon points="183.1,1421.06 192.1,1430.26 183.1,1439.46 174.1,1430.26" fill="#00FFFF"/>
<polygon points="264,1413.94 273,1423.14 264,1432.34 255,1423.14" fill="#00FFFF"/>
<polygon points="344.9,1408.47 353.9,1417.67 344.9,1426.87 335.9,1417.67" fill="#00FFFF"/>
<polygon points="425.8,1403.87 434.8,1413.07 425.8,1422.27 416.8,1413.07" fill="#00FFFF"/>
<polygon points="506.7,1399.81 515.7,1409.01 506.7,1418.21 497.7,1409.01" fill="#00FFFF"/>
<polygon points="587.6,1396.14 596.6,1405.34 587.6,1414.54 578.6,1405.34" fill="#00FFFF"/>
<polygon points="668.5,1392.77 677.5,1401.97 668.5,1411.17 659.5,1401.97" fill="#00FFFF"/>
<polygon points="749.4,1389.63 758.4,1398.83 749.4,1408.03 740.4,1398.83" fill="#00FFFF"/>
<polygon points="830.3,1386.68 839.3,1395.88 830.3,1405.08 821.3,1395.88" fill="#00FFFF"/>
<polygon points="911.2,1383.89 920.2,1393.09 911.2,1402.29 902.2,1393.09" fill="#00FFFF"/>
<polygon points="992.1,1381.23 1001.1,1390.43 992.1,1399.63 983.1,1390.43" fill="#00FFFF"/>
<polygon points="1073,1378.7 1082,1387.9 1073,1397.1 1064,1387.9" fill="#00FFFF"/>
<polygon points="1153.9,1376.27 1162.9,1385.47 1153.9,1394.67 1144.9,1385.47" fill="#00FFFF"/>
<polygon points="1234.8,1373.93 1243.8,1383.13 1234.8,1392.33 1225.8,1383.13" fill="#00FFFF"/>
<polygon points="1315.7,1371.67 1324.7,1380.87 1315.7,1390.07 1306.7,1380.87" fill="#00FFFF"/>
<path transform="scale(0.99808 1.00692)" d="M102.4 1437.5C129.42 1432.26 156.43 1427.02 183.45 1423.84C210.47 1420.66 237.49 1419.54 264.51 1418.18C291.53 1416.82 318.55 1415.22 345.56 1413.84C372.58 1412.46 399.6 1411.3 426.62 1410.18C453.64 1409.06 480.66 1407.98 507.68 1406.96C534.69 1405.93 561.71 1404.97 588.73 1404.04C615.75 1403.11 642.77 1402.22 669.79 1401.36C696.81 1400.5 723.83 1399.67 750.84 1398.87C777.86 1398.06 804.88 1397.28 831.9 1396.52C858.92 1395.76 885.94 1395.03 912.96 1394.31C939.97 1393.59 966.99 1392.89 994.01 1392.2C1021.03 1391.51 1048.05 1390.84 1075.07 1390.18C1102.09 1389.53 1129.1 1388.88 1156.12 1388.25C1183.14 1387.62 1210.16 1387 1237.18 1386.39C1264.2 1385.79 1291.22 1385.19 1318.24 1384.6" fill="none" stroke="#FF00FF" stroke-width="4.6" stroke-linecap="round" stroke-dasharray="4.7 21.3" stroke-dashoffset="24.31"/>
<polygon points="92.3,1447.45 107.15,1438.88 107.15,1456.02" fill="#FF00FF"/>
<polygon points="173.2,1433.7 188.05,1425.12 188.05,1442.27" fill="#FF00FF"/>
<polygon points="254.1,1428 268.95,1419.43 268.95,1436.57" fill="#FF00FF"/>
<polygon points="335,1423.63 349.85,1415.06 349.85,1432.2" fill="#FF00FF"/>
<polygon points="415.9,1419.94 430.75,1411.37 430.75,1428.52" fill="#FF00FF"/>
<polygon points="496.8,1416.7 511.65,1408.12 511.65,1425.27" fill="#FF00FF"/>
<polygon points="577.7,1413.76 592.55,1405.19 592.55,1422.34" fill="#FF00FF"/>
<polygon points="658.6,1411.06 673.45,1402.49 673.45,1419.64" fill="#FF00FF"/>
<polygon points="739.5,1408.55 754.35,1399.98 754.35,1417.13" fill="#FF00FF"/>
<polygon points="820.4,1406.19 835.25,1397.62 835.25,1414.77" fill="#FF00FF"/>
<polygon points="901.3,1403.96 916.15,1395.39 916.15,1412.53" fill="#FF00FF"/>
<polygon points="982.2,1401.84 997.05,1393.26 997.05,1410.41" fill="#FF00FF"/>
<polygon points="1063.1,1399.81 1077.95,1391.24 1077.95,1408.38" fill="#FF00FF"/>
<polygon points="1144,1397.86 1158.85,1389.29 1158.85,1406.44" fill="#FF00FF"/>
<polygon points="1224.9,1395.99 1239.75,1387.42 1239.75,1404.57" fill="#FF00FF"/>
<polygon points="1305.8,1394.19 1320.65,1385.61 1320.65,1402.76" fill="#FF00FF"/>
<path transform="scale(0.99808 1.00692)" d="M102.4 1437.5C129.42 1433.13 156.43 1428.77 183.45 1426.12C210.47 1423.47 237.49 1422.54 264.51 1421.4C291.53 1420.27 318.55 1418.93 345.56 1417.78C372.58 1416.63 399.6 1415.67 426.62 1414.73C453.64 1413.8 480.66 1412.9 507.68 1412.05C534.69 1411.2 561.71 1410.39 588.73 1409.62C615.75 1408.85 642.77 1408.1 669.79 1407.38C696.81 1406.67 723.83 1405.98 750.84 1405.31C777.86 1404.63 804.88 1403.99 831.9 1403.35C858.92 1402.72 885.94 1402.11 912.96 1401.51C939.97 1400.91 966.99 1400.32 994.01 1399.75C1021.03 1399.18 1048.05 1398.62 1075.07 1398.07C1102.09 1397.52 1129.1 1396.99 1156.12 1396.46C1183.14 1395.93 1210.16 1395.42 1237.18 1394.91C1264.2 1394.41 1291.22 1393.91 1318.24 1393.42" fill="none" stroke="#FFFF00" stroke-width="4.6" stroke-linecap="round" stroke-dasharray="4.7 21.3" stroke-dashoffset="24.31"/>
<polygon points="112.1,1447.45 97.25,1456.02 97.25,1438.88" fill="#FFFF00"/>
<polygon points="193,1435.99 178.15,1444.56 178.15,1427.42" fill="#FFFF00"/>
<polygon points="273.9,1431.24 259.05,1439.82 259.05,1422.67" fill="#FFFF00"/>
<polygon points="354.8,1427.6 339.95,1436.17 339.95,1419.03" fill="#FFFF00"/>
<polygon points="435.7,1424.53 420.85,1433.1 420.85,1415.96" fill="#FFFF00"/>
<polygon points="516.6,1421.82 501.75,1430.4 501.75,1413.25" fill="#FFFF00"/>
<polygon points="597.5,1419.38 582.65,1427.95 582.65,1410.8" fill="#FFFF00"/>
<polygon points="678.4,1417.13 663.55,1425.7 663.55,1408.55" fill="#FFFF00"/>
<polygon points="759.3,1415.03 744.45,1423.61 744.45,1406.46" fill="#FFFF00"/>
<polygon points="840.2,1413.07 825.35,1421.64 825.35,1404.49" fill="#FFFF00"/>
<polygon points="921.1,1411.21 906.25,1419.78 906.25,1402.63" fill="#FFFF00"/>
<polygon points="1002,1409.44 987.15,1418.01 987.15,1400.87" fill="#FFFF00"/>
<polygon points="1082.9,1407.75 1068.05,1416.32 1068.05,1399.18" fill="#FFFF00"/>
<polygon points="1163.8,1406.13 1148.95,1414.7 1148.95,1397.55" fill="#FFFF00"/>
<polygon points="1244.7,1404.57 1229.85,1413.14 1229.85,1395.99" fill="#FFFF00"/>
<polygon points="1325.6,1403.06 1310.75,1411.64 1310.75,1394.49" fill="#FFFF00"/>
<path transform="scale(0.99808 1.00692)" d="M102.4 1437.5C129.42 1433.76 156.43 1430.01 183.45 1427.74C210.47 1425.47 237.49 1424.67 264.51 1423.7C291.53 1422.73 318.55 1421.59 345.56 1420.6C372.58 1419.61 399.6 1418.79 426.62 1417.99C453.64 1417.19 480.66 1416.41 507.68 1415.68C534.69 1414.95 561.71 1414.26 588.73 1413.6C615.75 1412.94 642.77 1412.3 669.79 1411.69C696.81 1411.07 723.83 1410.48 750.84 1409.9C777.86 1409.33 804.88 1408.77 831.9 1408.23C858.92 1407.69 885.94 1407.16 912.96 1406.65C939.97 1406.13 966.99 1405.63 994.01 1405.14C1021.03 1404.65 1048.05 1404.17 1075.07 1403.7C1102.09 1403.23 1129.1 1402.77 1156.12 1402.32C1183.14 1401.87 1210.16 1401.43 1237.18 1401C1264.2 1400.56 1291.22 1400.14 1318.24 1399.71" fill="none" stroke="#808000" stroke-width="4.6" stroke-linecap="round" stroke-dasharray="4.7 21.3" stroke-dashoffset="24.31"/>
<polygon points="102.2,1439.05 109.47,1443.25 109.47,1451.65 102.2,1455.85 94.93,1451.65 94.93,1443.25" fill="#808000"/>
<polygon points="183.1,1429.23 190.37,1433.43 190.37,1441.83 183.1,1446.03 175.83,1441.83 175.83,1433.43" fill="#808000"/>
<polygon points="264,1425.16 271.27,1429.36 271.27,1437.76 264,1441.96 256.73,1437.76 256.73,1429.36" fill="#808000"/>
<polygon points="344.9,1422.04 352.17,1426.24 352.17,1434.64 344.9,1438.84 337.63,1434.64 337.63,1426.24" fill="#808000"/>
<polygon points="425.8,1419.4 433.07,1423.6 433.07,1432 425.8,1436.2 418.53,1432 418.53,1423.6" fill="#808000"/>
<polygon points="506.7,1417.08 513.97,1421.28 513.97,1429.68 506.7,1433.88 499.43,1429.68 499.43,1421.28" fill="#808000"/>
<polygon points="587.6,1414.99 594.87,1419.19 594.87,1427.59 587.6,1431.79 580.33,1427.59 580.33,1419.19" fill="#808000"/>
<polygon points="668.5,1413.06 675.77,1417.26 675.77,1425.66 668.5,1429.86 661.23,1425.66 661.23,1417.26" fill="#808000"/>
<polygon points="749.4,1411.27 756.67,1415.47 756.67,1423.87 749.4,1428.07 742.13,1423.87 742.13,1415.47" fill="#808000"/>
<polygon points="830.3,1409.58 837.57,1413.78 837.57,1422.18 830.3,1426.38 823.03,1422.18 823.03,1413.78" fill="#808000"/>
<polygon points="911.2,1407.99 918.47,1412.19 918.47,1420.59 911.2,1424.79 903.93,1420.59 903.93,1412.19" fill="#808000"/>
<polygon points="992.1,1406.47 999.37,1410.67 999.37,1419.07 992.1,1423.27 984.83,1419.07 984.83,1410.67" fill="#808000"/>
<polygon points="1073,1405.02 1080.27,1409.22 1080.27,1417.62 1073,1421.82 1065.73,1417.62 1065.73,1409.22" fill="#808000"/>
<polygon points="1153.9,1403.63 1161.17,1407.83 1161.17,1416.23 1153.9,1420.43 1146.63,1416.23 1146.63,1407.83" fill="#808000"/>
<polygon points="1234.8,1402.29 1242.07,1406.49 1242.07,1414.89 1234.8,1419.09 1227.53,1414.89 1227.53,1406.49" fill="#808000"/>
<polygon points="1315.7,1401 1322.97,1405.2 1322.97,1413.6 1315.7,1417.8 1308.43,1413.6 1308.43,1405.2" fill="#808000"/>
<path transform="scale(0.99808 1.00692)" d="M102.4 1437.5C129.42 1434.22 156.43 1430.95 183.45 1428.96C210.47 1426.97 237.49 1426.28 264.51 1425.43C291.53 1424.58 318.55 1423.58 345.56 1422.71C372.58 1421.85 399.6 1421.13 426.62 1420.43C453.64 1419.73 480.66 1419.05 507.68 1418.41C534.69 1417.77 561.71 1417.17 588.73 1416.59C615.75 1416.01 642.77 1415.45 669.79 1414.91C696.81 1414.38 723.83 1413.86 750.84 1413.35C777.86 1412.85 804.88 1412.36 831.9 1411.89C858.92 1411.41 885.94 1410.95 912.96 1410.5C939.97 1410.05 966.99 1409.62 994.01 1409.19C1021.03 1408.76 1048.05 1408.34 1075.07 1407.93C1102.09 1407.52 1129.1 1407.11 1156.12 1406.72C1183.14 1406.33 1210.16 1405.94 1237.18 1405.56C1264.2 1405.18 1291.22 1404.81 1318.24 1404.44" fill="none" stroke="#000080" stroke-width="4.6" stroke-linecap="round" stroke-dasharray="4.7 21.3" stroke-dashoffset="24.31"/>
<polygon points="102.2,1438.75 104.49,1444.29 110.47,1444.76 105.91,1448.66 107.31,1454.49 102.2,1451.35 97.09,1454.49 98.49,1448.66 93.93,1444.76 99.91,1444.29" fill="#000080"/>
<polygon points="183.1,1430.15 185.39,1435.7 191.37,1436.17 186.81,1440.06 188.21,1445.89 183.1,1442.75 177.99,1445.89 179.39,1440.06 174.83,1436.17 180.81,1435.7" fill="#000080"/>
<polygon points="264,1426.59 266.29,1432.14 272.27,1432.61 267.71,1436.5 269.11,1442.33 264,1439.19 258.89,1442.33 260.29,1436.5 255.73,1432.61 261.71,1432.14" fill="#000080"/>
<polygon points="344.9,1423.86 347.19,1429.41 353.17,1429.87 348.61,1433.77 350.01,1439.6 344.9,1436.46 339.79,1439.6 341.19,1433.77 336.63,1429.87 342.61,1429.41" fill="#000080"/>
<polygon points="425.8,1421.56 428.09,1427.1 434.07,1427.57 429.51,1431.46 430.91,1437.3 425.8,1434.16 420.69,1437.3 422.09,1431.46 417.53,1427.57 423.51,1427.1" fill="#000080"/>
<polygon points="506.7,1419.53 508.99,1425.07 514.97,1425.54 510.41,1429.44 511.81,1435.27 506.7,1432.13 501.59,1435.27 502.99,1429.44 498.43,1425.54 504.41,1425.07" fill="#000080"/>
<polygon points="587.6,1417.7 589.89,1423.24 595.87,1423.71 591.31,1427.6 592.71,1433.43 587.6,1430.3 582.49,1433.43 583.89,1427.6 579.33,1423.71 585.31,1423.24" fill="#000080"/>
<polygon points="668.5,1416.01 670.79,1421.55 676.77,1422.02 672.21,1425.91 673.61,1431.75 668.5,1428.61 663.39,1431.75 664.79,1425.91 660.23,1422.02 666.21,1421.55" fill="#000080"/>
<polygon points="749.4,1414.44 751.69,1419.98 757.67,1420.45 753.11,1424.34 754.51,1430.18 749.4,1427.04 744.29,1430.18 745.69,1424.34 741.13,1420.45 747.11,1419.98" fill="#000080"/>
<polygon points="830.3,1412.96 832.59,1418.51 838.57,1418.98 834.01,1422.87 835.41,1428.7 830.3,1425.56 825.19,1428.7 826.59,1422.87 822.03,1418.98 828.01,1418.51" fill="#000080"/>
<polygon points="911.2,1411.57 913.49,1417.11 919.47,1417.58 914.91,1421.47 916.31,1427.31 911.2,1424.17 906.09,1427.31 907.49,1421.47 902.93,1417.58 908.91,1417.11" fill="#000080"/>
<polygon points="992.1,1410.24 994.39,1415.79 1000.37,1416.25 995.81,1420.15 997.21,1425.98 992.1,1422.84 986.99,1425.98 988.39,1420.15 983.83,1416.25 989.81,1415.79" fill="#000080"/>
<polygon points="1073,1408.97 1075.29,1414.52 1081.27,1414.99 1076.71,1418.88 1078.11,1424.71 1073,1421.57 1067.89,1424.71 1069.29,1418.88 1064.73,1414.99 1070.71,1414.52" fill="#000080"/>
<polygon points="1153.9,1407.76 1156.19,1413.3 1162.17,1413.77 1157.61,1417.66 1159.01,1423.5 1153.9,1420.36 1148.79,1423.5 1150.19,1417.66 1145.63,1413.77 1151.61,1413.3" fill="#000080"/>
<polygon points="1234.8,1406.59 1237.09,1412.13 1243.07,1412.6 1238.51,1416.49 1239.91,1422.33 1234.8,1419.19 1229.69,1422.33 1231.09,1416.49 1226.53,1412.6 1232.51,1412.13" fill="#000080"/>
<polygon points="1315.7,1405.46 1317.99,1411 1323.97,1411.47 1319.41,1415.37 1320.81,1421.2 1315.7,1418.06 1310.59,1421.2 1311.99,1415.37 1307.43,1411.47 1313.41,1411" fill="#000080"/>
<path transform="scale(0.99808 1.00692)" d="M102.4 1437.5C129.42 1434.59 156.43 1431.68 183.45 1429.91C210.47 1428.14 237.49 1427.52 264.51 1426.77C291.53 1426.01 318.55 1425.12 345.56 1424.36C372.58 1423.59 399.6 1422.94 426.62 1422.32C453.64 1421.7 480.66 1421.1 507.68 1420.53C534.69 1419.96 561.71 1419.43 588.73 1418.91C615.75 1418.4 642.77 1417.9 669.79 1417.42C696.81 1416.94 723.83 1416.48 750.84 1416.04C777.86 1415.59 804.88 1415.16 831.9 1414.73C858.92 1414.31 885.94 1413.9 912.96 1413.5C939.97 1413.1 966.99 1412.71 994.01 1412.33C1021.03 1411.95 1048.05 1411.58 1075.07 1411.21C1102.09 1410.85 1129.1 1410.49 1156.12 1410.14C1183.14 1409.79 1210.16 1409.44 1237.18 1409.11C1264.2 1408.77 1291.22 1408.44 1318.24 1408.11" fill="none" stroke="#800080" stroke-width="4.6" stroke-linecap="round" stroke-dasharray="4.7 21.3" stroke-dashoffset="24.31"/>
<polygon points="102.2,1438.85 110.38,1444.79 107.25,1454.41 97.15,1454.41 94.02,1444.79" fill="#800080"/>
<polygon points="183.1,1431.21 191.28,1437.15 188.15,1446.77 178.05,1446.77 174.92,1437.15" fill="#800080"/>
<polygon points="264,1428.04 272.18,1433.99 269.05,1443.6 258.95,1443.6 255.82,1433.99" fill="#800080"/>
<polygon points="344.9,1425.62 353.08,1431.56 349.95,1441.17 339.85,1441.17 336.72,1431.56" fill="#800080"/>
<polygon points="425.8,1423.57 433.98,1429.51 430.85,1439.13 420.75,1439.13 417.62,1429.51" fill="#800080"/>
<polygon points="506.7,1421.77 514.88,1427.71 511.75,1437.32 501.65,1437.32 498.52,1427.71" fill="#800080"/>
<polygon points="587.6,1420.13 595.78,1426.08 592.65,1435.69 582.55,1435.69 579.42,1426.08" fill="#800080"/>
<polygon points="668.5,1418.64 676.68,1424.58 673.55,1434.19 663.45,1434.19 660.32,1424.58" fill="#800080"/>
<polygon points="749.4,1417.24 757.58,1423.18 754.45,1432.8 744.35,1432.8 741.22,1423.18" fill="#800080"/>
<polygon points="830.3,1415.93 838.48,1421.87 835.35,1431.49 825.25,1431.49 822.12,1421.87" fill="#800080"/>
<polygon points="911.2,1414.69 919.38,1420.63 916.25,1430.25 906.15,1430.25 903.02,1420.63" fill="#800080"/>
<polygon points="992.1,1413.51 1000.28,1419.45 997.15,1429.07 987.05,1429.07 983.92,1419.45" fill="#800080"/>
<polygon points="1073,1412.38 1081.18,1418.33 1078.05,1427.94 1067.95,1427.94 1064.82,1418.33" fill="#800080"/>
<polygon points="1153.9,1411.3 1162.08,1417.24 1158.95,1426.86 1148.85,1426.86 1145.72,1417.24" fill="#800080"/>
<polygon points="1234.8,1410.26 1242.98,1416.2 1239.85,1425.82 1229.75,1425.82 1226.62,1416.2" fill="#800080"/>
<polygon points="1315.7,1409.26 1323.88,1415.2 1320.75,1424.82 1310.65,1424.82 1307.52,1415.2" fill="#800080"/>
</svg></body></html>
